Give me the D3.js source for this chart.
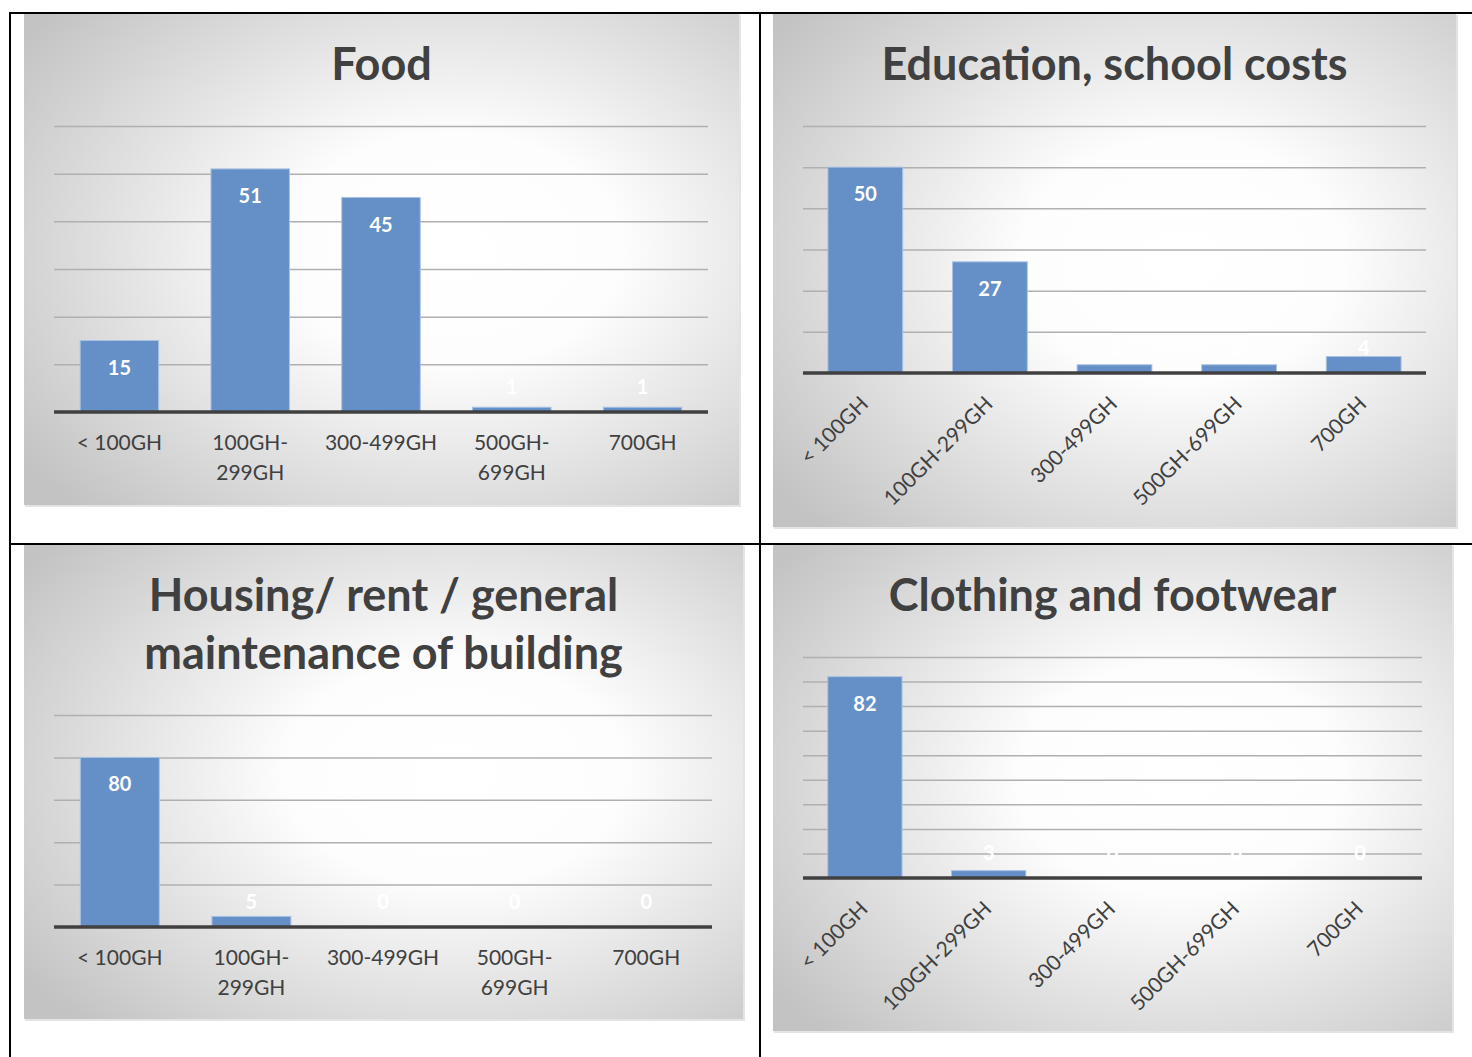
<!DOCTYPE html>
<html>
<head>
<meta charset="utf-8">
<script src="https://cdn.jsdelivr.net/npm/d3@7"></script>
<style>
  body { margin: 0; background: #ffffff; }
  svg { display: block; }
  text { font-family: Lato, "Open Sans", sans-serif; }
</style>
</head>
<body>
<svg id="page" width="1472" height="1057"></svg>
<script>
// Monthly spending bands (Ghana cedis) and number of respondents per band
const incomeBands = ["< 100GH", "100GH-299GH", "300-499GH", "500GH-699GH", "700GH"];

const foodCounts      = [15, 51, 45, 1, 1];
const educationCounts = [50, 27, 2, 2, 4];
const housingCounts   = [80, 5, 0, 0, 0];
const clothingCounts  = [82, 3, 0, 0, 0];

const foodTicks      = [0, 10, 20, 30, 40, 50, 60];
const educationTicks = [0, 10, 20, 30, 40, 50, 60];
const housingTicks   = [0, 20, 40, 60, 80, 100];
const clothingTicks  = [0, 10, 20, 30, 40, 50, 60, 70, 80, 90];

const foodTitle      = ["Food"];
const educationTitle = ["Education, school costs"];
const housingTitle   = ["Housing/ rent / general", "maintenance of building"];
const clothingTitle  = ["Clothing and footwear"];

// Layout of the four panels in the 2x2 grid
const panels = [
  { values: foodCounts, ticks: foodTicks, title: foodTitle,
    box: { x: 24, y: 14, w: 715, h: 491 }, plot: { x0: 54, x1: 708, base: 412 },
    titleY: 80, rotate: false },
  { values: educationCounts, ticks: educationTicks, title: educationTitle,
    box: { x: 773, y: 14, w: 683, h: 513 }, plot: { x0: 803, x1: 1426, base: 373 },
    titleY: 80, rotate: true },
  { values: housingCounts, ticks: housingTicks, title: housingTitle,
    box: { x: 24, y: 545, w: 719, h: 474 }, plot: { x0: 54, x1: 712, base: 927 },
    titleY: 611, rotate: false },
  { values: clothingCounts, ticks: clothingTicks, title: clothingTitle,
    box: { x: 773, y: 545, w: 679, h: 486 }, plot: { x0: 803, x1: 1422, base: 878 },
    titleY: 611, rotate: true }
];
// Pixel position of the top gridline in each panel
const plotTops = [126, 126, 715, 657];

const svg = d3.select("#page");
const defs = svg.append("defs");

const grad = defs.append("radialGradient")
  .attr("id", "panelFill")
  .attr("cx", 0.6).attr("cy", 0.48).attr("r", 0.74)
  .attr("fx", 0.6).attr("fy", 0.48);
grad.append("stop").attr("offset", 0).attr("stop-color", "#ffffff");
grad.append("stop").attr("offset", 0.32).attr("stop-color", "#fdfdfd");
grad.append("stop").attr("offset", 1).attr("stop-color", "#c3c3c3");

const BAR = "#658fc7";
const INK = "#404040";

panels.forEach((p, i) => {
  const g = svg.append("g");
  const b = p.box;

  // soft drop shadow and gradient background
  g.append("rect").attr("x", b.x + 1).attr("y", b.y + 1).attr("width", b.w + 1).attr("height", b.h + 1)
    .attr("fill", "#e4e4e4");
  g.append("rect").attr("x", b.x).attr("y", b.y).attr("width", b.w).attr("height", b.h)
    .attr("fill", "url(#panelFill)");

  // title
  const t = g.append("text")
    .attr("x", b.x + b.w / 2)
    .attr("y", p.titleY)
    .attr("text-anchor", "middle")
    .attr("font-weight", 700)
    .attr("font-size", 45)
    .attr("fill", INK);
  p.title.forEach((line, k) => {
    t.append("tspan").attr("x", b.x + b.w / 2).attr("dy", k === 0 ? 0 : 58).text(line);
  });

  const x = d3.scaleBand()
    .domain(incomeBands)
    .range([p.plot.x0, p.plot.x1])
    .paddingInner(0.4)
    .paddingOuter(0.2);

  const top = p.ticks[p.ticks.length - 1];
  const y = d3.scaleLinear()
    .domain([0, top])
    .range([p.plot.base, plotTops[i]]);

  // horizontal gridlines
  const grid = g.append("g")
    .attr("transform", `translate(${p.plot.x0},0)`)
    .call(d3.axisLeft(y)
      .tickValues(p.ticks.filter(v => v > 0))
      .tickSize(-(p.plot.x1 - p.plot.x0))
      .tickFormat(""));
  grid.select(".domain").remove();
  grid.selectAll(".tick line").attr("stroke", "#b0b0b0").attr("stroke-width", 1.5);

  // bars
  const data = incomeBands.map((c, k) => ({ c, v: p.values[k] }));
  g.selectAll("rect.bar").data(data).join("rect")
    .attr("class", "bar")
    .attr("x", d => x(d.c))
    .attr("width", x.bandwidth())
    .attr("y", d => y(d.v))
    .attr("height", d => y(0) - y(d.v))
    .attr("fill", BAR)
    .attr("stroke", "#a9c2e4")
    .attr("stroke-width", d => d.v > 0 ? 1 : 0);

  // baseline
  g.append("line")
    .attr("x1", p.plot.x0).attr("x2", p.plot.x1)
    .attr("y1", y(0)).attr("y2", y(0))
    .attr("stroke", INK).attr("stroke-width", 3.5);

  // value labels
  g.selectAll("text.val").data(data).join("text")
    .attr("class", "val")
    .attr("x", d => x(d.c) + x.bandwidth() / 2)
    .attr("y", d => Math.min(y(d.v) + 27, y(0) - 25))
    .attr("dy", "0.35em")
    .attr("text-anchor", "middle")
    .attr("font-weight", 700)
    .attr("font-size", 20)
    .attr("fill", "#ffffff")
    .text(d => d.v);

  // category axis
  const ax = g.append("g")
    .attr("transform", `translate(0,${p.plot.base})`)
    .call(d3.axisBottom(x).tickSize(0).tickPadding(0));
  ax.select(".domain").remove();
  ax.selectAll(".tick text")
    .attr("font-family", "Lato, 'Open Sans', sans-serif")
    .attr("font-size", 21)
    .attr("fill", INK);

  if (p.rotate) {
    ax.selectAll(".tick text")
      .attr("text-anchor", "end")
      .attr("transform", "translate(-1,27) rotate(-45)")
      .attr("y", 0).attr("dy", "0.35em");
  } else {
    ax.selectAll(".tick text").each(function (d) {
      const el = d3.select(this);
      const cut = d.indexOf("GH-");
      const parts = cut >= 0 ? [d.slice(0, cut + 3), d.slice(cut + 3)] : [d];
      el.text(null).attr("y", 31).attr("dy", null);
      parts.forEach((s, k) => {
        el.append("tspan").attr("x", 0).attr("dy", k === 0 ? "0.35em" : 30).text(s);
      });
    });
  }
});

// table rules around the four panels
const rules = svg.append("g").attr("stroke", "#000000").attr("stroke-width", 2);
rules.append("line").attr("x1", 9).attr("x2", 1472).attr("y1", 13).attr("y2", 13);
rules.append("line").attr("x1", 9).attr("x2", 1472).attr("y1", 544).attr("y2", 544);
rules.append("line").attr("x1", 10).attr("x2", 10).attr("y1", 12).attr("y2", 1057);
rules.append("line").attr("x1", 760).attr("x2", 760).attr("y1", 12).attr("y2", 1057);
</script>
</body>
</html>
